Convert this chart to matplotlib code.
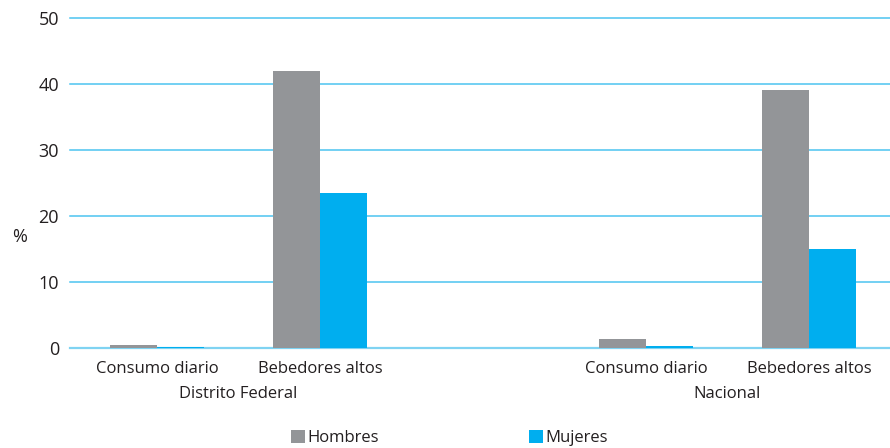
import matplotlib
matplotlib.use("Agg")
import matplotlib.pyplot as plt
import numpy as np

groups = ["Distrito Federal", "Nacional"]
categories = ["Consumo diario", "Bebedores altos", "Consumo diario", "Bebedores altos"]
hombres = [0.5, 42.0, 1.4, 39.1]
mujeres = [0.1, 23.5, 0.3, 15.0]
yticks = [0, 10, 20, 30, 40, 50]

GREY = "#939598"
BLUE = "#00AEEF"
GRID = "#4CC4F0"
TEXT = "#231F20"

plt.rcParams['font.family'] = ['Open Sans', 'DejaVu Sans']

fig = plt.figure(figsize=(8.9, 4.48), dpi=100)
ax = fig.add_axes([0.0787, 0.2232, 0.9213, 0.7366])

pos = np.array([0, 1, 3, 4])
w = 0.29
ax.bar(pos - w / 2, hombres, width=w, color=GREY, zorder=3, label="Hombres")
ax.bar(pos + w / 2, mujeres, width=w, color=BLUE, zorder=3, label="Mujeres")

ax.set_xlim(-0.534, 4.497)
ax.set_ylim(0, 50)
ax.set_yticks(yticks)
ax.set_yticklabels([str(t) for t in yticks], fontsize=13, color=TEXT)
for t in yticks:
    ax.axhline(t, color=GRID if t else "#7FD3F2", lw=1.1 if t else 1.6, zorder=1, clip_on=False)
ax.tick_params(axis='y', length=0, pad=8)
ax.set_xticks(pos)
ax.set_xticklabels(categories, fontsize=12, color=TEXT)
ax.tick_params(axis='x', length=0, pad=9)
for s in ax.spines.values():
    s.set_visible(False)

ax.set_ylabel("%", rotation=0, fontsize=13, color=TEXT, va='center')
ax.yaxis.set_label_coords(-0.062, 0.335)

# group labels
ax.text(0.5, -0.115, groups[0], transform=ax.get_xaxis_transform(), ha='center', va='top', fontsize=12, color=TEXT)
ax.text(3.5, -0.115, groups[1], transform=ax.get_xaxis_transform(), ha='center', va='top', fontsize=12, color=TEXT)

leg = fig.legend(loc='lower center', bbox_to_anchor=(0.505, -0.03), ncol=2, frameon=False,
                 fontsize=12, handlelength=0.85, handleheight=0.85, handletextpad=0.15,
                 columnspacing=9.0)
for t in leg.get_texts():
    t.set_color(TEXT)

fig.savefig("out.png", dpi=100)
